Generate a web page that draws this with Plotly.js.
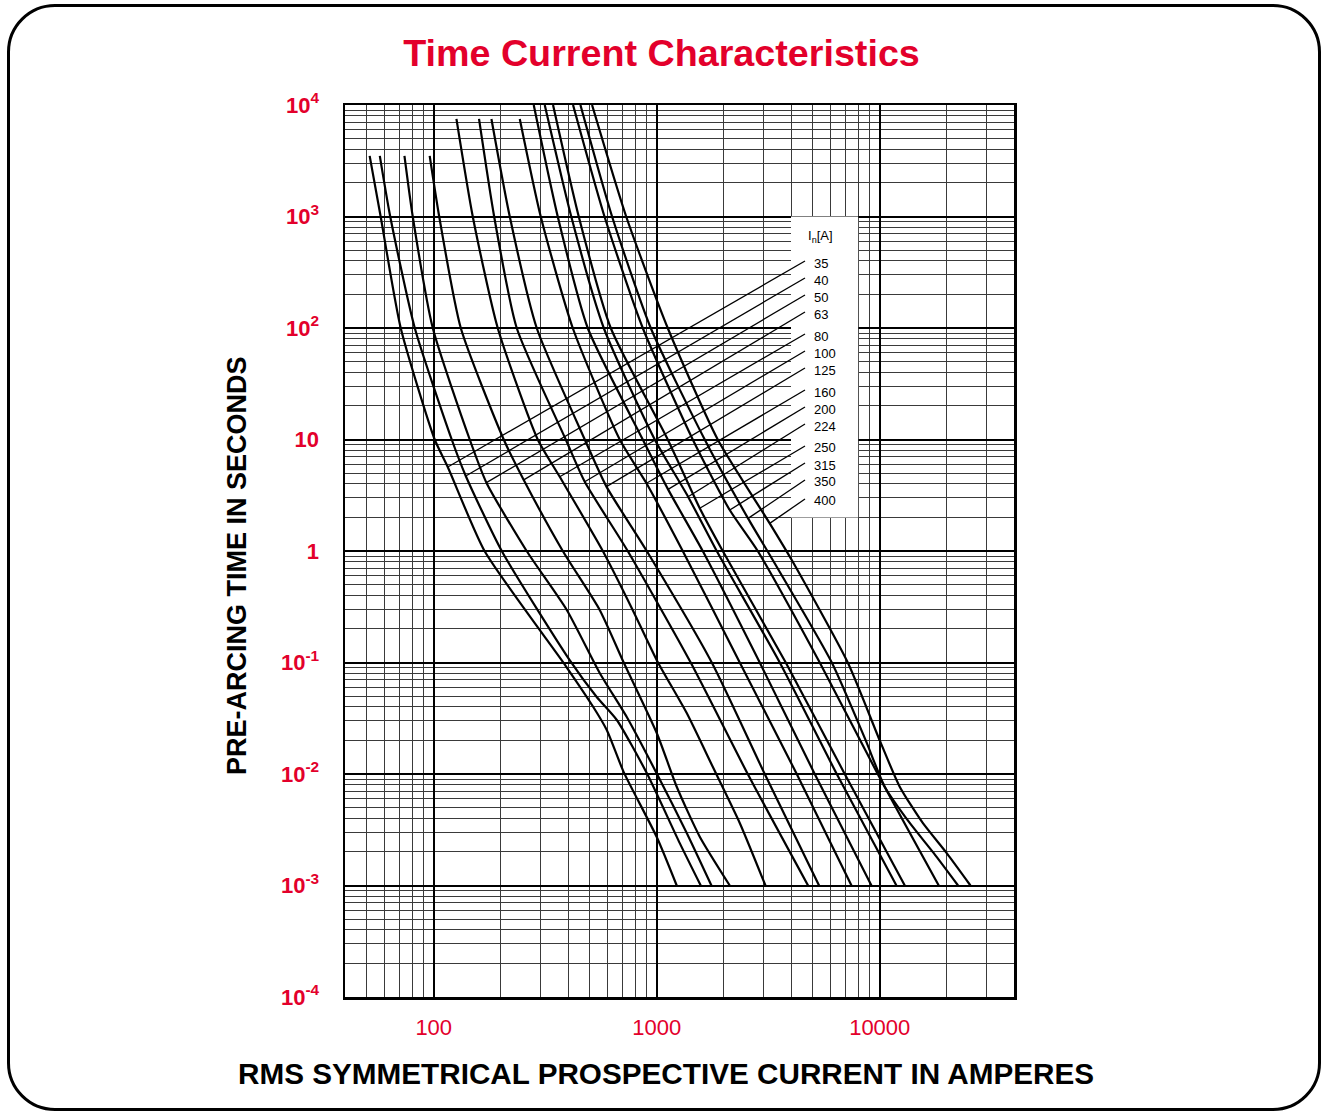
<!DOCTYPE html>
<html><head><meta charset="utf-8">
<script src="https://cdn.plot.ly/plotly-3.0.1.min.js"></script>
<style>
html,body{margin:0;padding:0;background:#fff;}
#frame{position:absolute;left:7px;top:4px;width:1308px;height:1101px;border:3px solid #000;border-radius:48px;}
#chart{position:absolute;left:0;top:0;width:1323px;height:1113px;}
</style></head><body>
<div id="frame"></div><div id="chart"></div>
<script>
// ---- DATA (current in A, pre-arcing time in s) ----
const ratings = ['35','40','50','63','80','100','125','160','200','224','250','315','350','400'];

const I35 = [51.6, 57.8, 71.1, 101, 115.6, 169, 391, 516, 597, 711, 1000, 1229];
const t35 = [3500, 1000, 100, 10, 5.67, 1, 0.093, 0.0407, 0.0248, 0.0104, 0.00272, 0.001];
const I40 = [57.3, 63.8, 82.2, 120.4, 139.2, 201.8, 407, 538, 662, 902, 1268, 1575];
const t40 = [3500, 1000, 100, 10, 4.71, 1, 0.105, 0.049, 0.0305, 0.0102, 0.0024, 0.001];
const I50 = [73.9, 80.5, 99, 145, 172.3, 261, 395, 555, 734, 1000, 1363, 1759];
const t50 = [3500, 1000, 100, 10, 4.1, 1, 0.296, 0.0806, 0.0324, 0.0101, 0.00296, 0.001];
const I63 = [95.9, 105.8, 132.2, 206, 253.3, 379, 555, 711, 1000, 1229, 1559, 2125];
const t63 = [3500, 1000, 100, 10, 4.34, 1, 0.296, 0.1, 0.0233, 0.00769, 0.00274, 0.001];
const I80 = [126.4, 149.6, 193.6, 292.7, 367.3, 573, 780, 1000, 1363, 1783, 2356, 3072];
const t80 = [7500, 1000, 100, 10, 4.63, 1, 0.296, 0.105, 0.0352, 0.0116, 0.00364, 0.001];
const I100 = [159.6, 186.6, 235.6, 390.8, 475.5, 741, 1420, 2559, 4770];
const t100 = [7500, 1000, 100, 10, 4.18, 1, 0.1, 0.01, 0.001];
const I125 = [181.4, 219.2, 289.6, 475.5, 595, 902, 1765, 3050, 5343];
const t125 = [7500, 1000, 100, 10, 3.78, 1, 0.1, 0.01, 0.001];
const I160 = [243.1, 301.8, 420.1, 682.5, 899.4, 1308, 2356, 4245, 7468];
const t160 = [7500, 1000, 100, 10, 4.05, 1, 0.1, 0.01, 0.001];
const I200 = [280.8, 359.8, 490.4, 865.6, 1124, 1608, 2896, 5110, 9180];
const t200 = [10000, 1000, 100, 10, 3.57, 1, 0.1, 0.01, 0.001];
const I224 = [314.6, 413.6, 578.7, 979.5, 1382, 1858, 3561, 6416, 11880];
const t224 = [10000, 1000, 100, 10, 3.07, 1, 0.1, 0.01, 0.001];
const I250 = [342.8, 446.9, 621.9, 1120, 1559, 1977, 3788, 6966, 12950];
const t250 = [10000, 1000, 100, 10, 2.42, 1, 0.1, 0.01, 0.001];
const I315 = [421.4, 583, 865.6, 1450, 2125, 2837, 5381, 9795, 18390];
const t315 = [10000, 1000, 100, 10, 2.33, 1, 0.1, 0.01, 0.001];
const I350 = [454.8, 630.4, 939.9, 1641, 2567, 3313, 6093, 8653, 10530, 13630, 17470, 22450];
const t350 = [10000, 1000, 100, 10, 1.96, 0.83, 0.1, 0.02, 0.0077, 0.00364, 0.00195, 0.001];
const I400 = [512.8, 729.3, 1120, 1877, 3211, 4031, 7187, 10000, 12290, 15590, 19970, 25510];
const t400 = [10000, 1000, 100, 10, 1.77, 0.83, 0.1, 0.02, 0.0077, 0.00364, 0.00195, 0.001];

// points where the label leader lines meet each curve
const leaderI = [115.6, 139.2, 172.3, 253.3, 367.3, 475.5, 595, 899.4, 1124, 1382, 1559, 2125, 2567, 3211];
const leaderT = [5.67, 4.71, 4.1, 4.34, 4.63, 4.18, 3.78, 4.05, 3.57, 3.07, 2.42, 2.33, 1.96, 1.77];

const xTickVals = [100, 1000, 10000];
const xTickText = ['100', '1000', '10000'];
const yTickVals = [1e-4, 1e-3, 1e-2, 1e-1, 1, 10, 100, 1000, 10000];
const yTickText = ['10<sup>-4</sup>', '10<sup>-3</sup>', '10<sup>-2</sup>', '10<sup>-1</sup>', '1', '10', '10<sup>2</sup>', '10<sup>3</sup>', '10<sup>4</sup>'];

// ---- LAYOUT ----
const W = 1323, H = 1113;
const plotL = 345, plotR = 1014, plotT = 105, plotB = 997;
const RED = '#e3002b';
const FONT = 'Liberation Sans, Arial, Helvetica, sans-serif';
const xRange = [Math.log10(40), Math.log10(40000)];
const yRange = [-4, 4];

const curvesI = [I35, I40, I50, I63, I80, I100, I125, I160, I200, I224, I250, I315, I350, I400];
const curvesT = [t35, t40, t50, t63, t80, t100, t125, t160, t200, t224, t250, t315, t350, t400];

function minorVals(lo, hi) {
  const v = [];
  for (let e = lo; e < hi; e++) for (let d = 2; d <= 9; d++) v.push(d * Math.pow(10, e));
  return v;
}

const traces = [];
curvesI.forEach((xs, i) => {
  traces.push({x: xs, y: curvesT[i], type: 'scatter', mode: 'lines', name: ratings[i] + ' A',
    line: {color: '#000', width: 2.2, shape: 'spline', smoothing: 0.6}, hoverinfo: 'x+y+name'});
});

// label rows (pixel rows of the label column) -> paper coords
const labelRowPx = [263, 280, 297, 314, 336, 353, 370, 392, 409, 426, 448, 465, 482, 501];
const pxToPaperY = py => 1 - (py - plotT) / (plotB - plotT);
const pxToPaperX = px => (px - plotL) / (plotR - plotL);
const paperToI = p => Math.pow(10, xRange[0] + p * (xRange[1] - xRange[0]));
const paperToT = p => Math.pow(10, yRange[0] + p * (yRange[1] - yRange[0]));

const leaderStartX = paperToI(pxToPaperX(805));
ratings.forEach((r, i) => {
  traces.push({x: [leaderStartX, leaderI[i]], y: [paperToT(pxToPaperY(labelRowPx[i] - 2)), leaderT[i]],
    type: 'scatter', mode: 'lines', line: {color: '#000', width: 1.3}, hoverinfo: 'skip'});
});

const annotations = ratings.map((r, i) => ({
  text: r, xref: 'paper', yref: 'paper', x: pxToPaperX(812), y: pxToPaperY(labelRowPx[i]),
  xanchor: 'left', yanchor: 'middle', showarrow: false, font: {family: FONT, size: 13, color: '#000'}
}));
annotations.push({text: 'I<sub>n</sub>[A]', xref: 'paper', yref: 'paper', x: pxToPaperX(806), y: pxToPaperY(237),
  xanchor: 'left', yanchor: 'middle', showarrow: false, font: {family: FONT, size: 13, color: '#000'}});
annotations.push({text: 'RMS SYMMETRICAL PROSPECTIVE CURRENT IN AMPERES', xref: 'paper', yref: 'paper',
  x: pxToPaperX(666), y: pxToPaperY(1073), xanchor: 'center', yanchor: 'middle', showarrow: false,
  font: {family: FONT, size: 29.7, color: '#000', weight: 'bold'}});
annotations.push({text: 'PRE-ARCING TIME IN SECONDS', xref: 'paper', yref: 'paper', textangle: -90,
  x: pxToPaperX(237), y: pxToPaperY(566), xanchor: 'center', yanchor: 'middle', showarrow: false,
  font: {family: FONT, size: 27, color: '#000', weight: 'bold'}});

const layout = {
  width: W, height: H,
  margin: {l: plotL, r: W - plotR, t: plotT, b: H - plotB, pad: 0},
  paper_bgcolor: 'rgba(0,0,0,0)', plot_bgcolor: '#fff',
  showlegend: false,
  font: {family: FONT},
  title: {text: 'Time Current Characteristics', xref: 'container', x: 0.5, xanchor: 'center',
    yref: 'container', y: 1 - 53 / H, yanchor: 'middle',
    font: {family: FONT, size: 37.7, color: RED, weight: 'bold'}},
  xaxis: {type: 'log', range: xRange, tickmode: 'array', tickvals: xTickVals, ticktext: xTickText,
    ticks: '', tickfont: {family: FONT, size: 22, color: RED}, ticklabelstandoff: 9,
    showgrid: true, gridcolor: '#000', gridwidth: 2,
    minor: {tickmode: 'array', tickvals: minorVals(1, 5), showgrid: true, gridcolor: '#3a3a3a', gridwidth: 1, ticks: ''},
    showline: true, linecolor: '#000', linewidth: 2.5, mirror: true, zeroline: false, fixedrange: true},
  yaxis: {type: 'log', range: yRange, tickmode: 'array', tickvals: yTickVals, ticktext: yTickText,
    ticks: '', tickfont: {family: FONT, size: 22, color: RED, weight: 'bold'}, ticklabelstandoff: 19,
    showgrid: true, gridcolor: '#000', gridwidth: 2,
    minor: {tickmode: 'array', tickvals: minorVals(-4, 4), showgrid: true, gridcolor: '#3a3a3a', gridwidth: 1, ticks: ''},
    showline: true, linecolor: '#000', linewidth: 2.5, mirror: true, zeroline: false, fixedrange: true},
  shapes: [{type: 'rect', xref: 'x', yref: 'y', x0: 4000, x1: 8000, y0: 2, y1: 1000,
    fillcolor: '#fff', line: {width: 0}, layer: 'between'}],
  annotations: annotations
};

Plotly.newPlot('chart', traces, layout, {displayModeBar: false, staticPlot: true});
</script></body></html>
